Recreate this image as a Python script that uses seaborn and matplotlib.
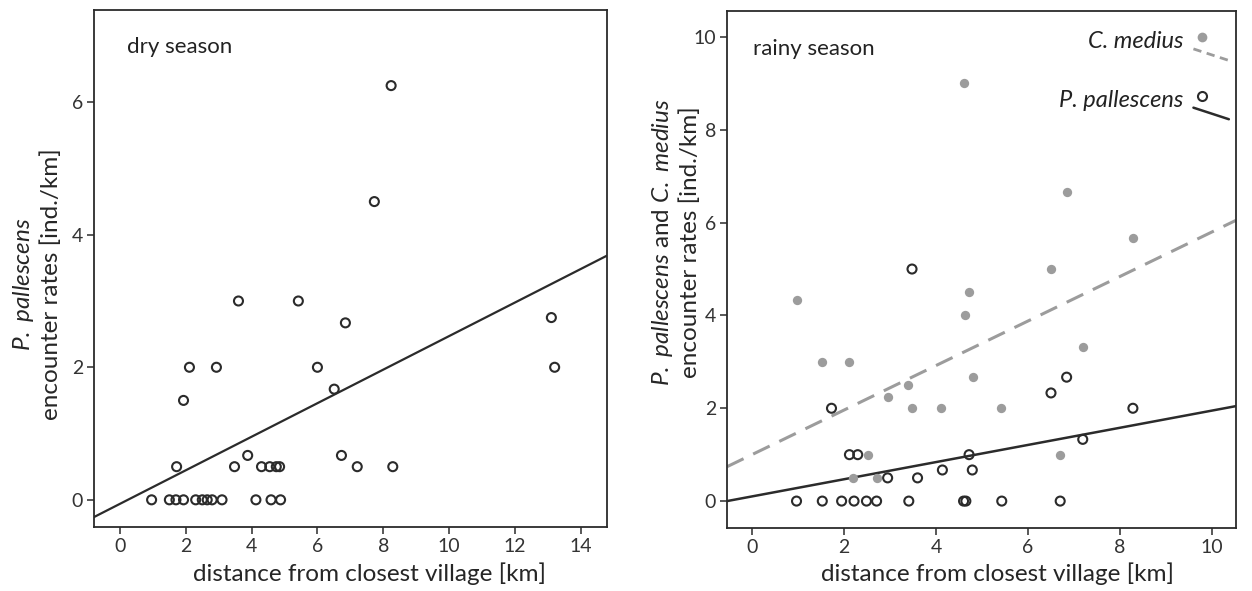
import numpy as np
import pandas as pd
import matplotlib
matplotlib.use("Agg")
import matplotlib.pyplot as plt
import seaborn as sns
from matplotlib.lines import Line2D
from matplotlib.legend_handler import HandlerBase

# ---------------- data ----------------
# dry season: P. pallescens
dry_dist = [8.24, 7.73, 3.6, 5.42, 6.85, 13.11, 2.11, 2.93, 6.0, 13.21, 1.93, 6.51,
            3.88, 6.73, 1.72, 3.48, 4.3, 4.55, 4.75, 4.85, 7.21, 8.29,
            0.96, 1.5, 1.7, 1.93, 2.3, 2.5, 2.65, 2.8, 3.1, 4.13, 4.59, 4.88]
dry_rate = [6.25, 4.5, 3.0, 3.0, 2.67, 2.75, 2.0, 2.0, 2.0, 2.0, 1.5, 1.67,
            0.67, 0.67, 0.5, 0.5, 0.5, 0.5, 0.5, 0.5, 0.5, 0.5,
            0, 0, 0, 0, 0, 0, 0, 0, 0, 0, 0, 0]
dry_fit = (-0.06, 0.253)  # intercept, slope

# rainy season: C. medius
cm_dist = [4.61, 6.84, 8.28, 6.5, 4.72, 0.97, 4.64, 7.19, 1.53, 2.11, 4.8, 3.40,
           2.95, 3.48, 4.12, 5.41, 2.53, 6.70, 2.2, 2.71]
cm_rate = [9.0, 6.67, 5.67, 5.0, 4.5, 4.33, 4.0, 3.33, 3.0, 3.0, 2.67, 2.5,
           2.25, 2.0, 2.0, 2.0, 1.0, 1.0, 0.5, 0.5]
cm_fit = (1.0, 0.48)

# rainy season: P. pallescens
pp_dist = [3.48, 6.84, 6.5, 8.28, 1.73, 7.19, 2.12, 2.30, 4.72, 4.14, 4.79, 2.95, 3.6,
           0.97, 1.53, 1.95, 2.22, 2.49, 2.71, 3.41, 4.6, 4.65, 5.43, 6.70]
pp_rate = [5.0, 2.67, 2.33, 2.0, 2.0, 1.33, 1.0, 1.0, 1.0, 0.67, 0.67, 0.5, 0.5,
           0, 0, 0, 0, 0, 0, 0, 0, 0, 0, 0]
pp_fit = (0.10, 0.185)

dry_xticks = [0, 2, 4, 6, 8, 10, 12, 14]
dry_yticks = [0, 2, 4, 6]
rainy_xticks = [0, 2, 4, 6, 8, 10]
rainy_yticks = [0, 2, 4, 6, 8, 10]

# ---------------- style ----------------
sns.set_style("ticks")
plt.rcParams["font.family"] = ["Lato", "DejaVu Sans"]
plt.rcParams["mathtext.fontset"] = "custom"
plt.rcParams["mathtext.it"] = "Lato:italic"
plt.rcParams["mathtext.rm"] = "Lato"
plt.rcParams["text.color"] = "#222222"

BLACK = "#2b2b2b"
GRAY = "#9c9c9c"
TICK_FS = 14
LAB_FS = 17.5

fig = plt.figure(figsize=(12.52, 5.91), dpi=100)
ax1 = fig.add_axes([0.0751, 0.1083, 0.4097, 0.8747])
ax2 = fig.add_axes([0.5807, 0.1066, 0.4065, 0.8748])

dry_df = pd.DataFrame({"dist": dry_dist, "rate": dry_rate})
cm_df = pd.DataFrame({"dist": cm_dist, "rate": cm_rate})
pp_df = pd.DataFrame({"dist": pp_dist, "rate": pp_rate})

open_kw = dict(marker="o", s=42, facecolor="none", edgecolor=BLACK, linewidth=1.5)

# ---- left panel
sns.scatterplot(data=dry_df, x="dist", y="rate", ax=ax1, zorder=3, **open_kw)
ax1.axline((0, dry_fit[0]), slope=dry_fit[1], color=BLACK, lw=1.6, zorder=2)
ax1.set_xlim(-0.79, 14.8)
ax1.set_ylim(-0.41, 7.39)
ax1.set_xticks(dry_xticks)
ax1.set_yticks(dry_yticks)
ax1.set_xlabel("distance from closest village [km]", fontsize=LAB_FS)
ax1.xaxis.set_label_coords(0.538, -0.068)
ax1.set_ylabel(r"$\it{P.}$ $\it{pallescens}$" + "\nencounter rates [ind./km]",
               fontsize=LAB_FS, linespacing=1.25)
ax1.yaxis.set_label_coords(-0.062, 0.469)
ax1.text(0.064, 0.928, "dry season", transform=ax1.transAxes, fontsize=16,
         va="center", ha="left")

# ---- right panel
sns.scatterplot(data=cm_df, x="dist", y="rate", ax=ax2, zorder=3, marker="o", s=45,
                color=GRAY, edgecolor=GRAY, linewidth=0)
sns.scatterplot(data=pp_df, x="dist", y="rate", ax=ax2, zorder=4, **open_kw)
ax2.axline((0, cm_fit[0]), slope=cm_fit[1], color=GRAY, lw=2.2, dashes=(6, 3.5), zorder=2)
ax2.axline((0, pp_fit[0]), slope=pp_fit[1], color=BLACK, lw=1.8, zorder=2)
ax2.set_xlim(-0.54, 10.52)
ax2.set_ylim(-0.58, 10.56)
ax2.set_xticks(rainy_xticks)
ax2.set_yticks(rainy_yticks)
ax2.set_xlabel("distance from closest village [km]", fontsize=LAB_FS)
ax2.xaxis.set_label_coords(0.532, -0.066)
ax2.set_ylabel(r"$\it{P.}$ $\it{pallescens}$ and $\it{C.}$ $\it{medius}$" +
               "\nencounter rates [ind./km]", fontsize=LAB_FS, linespacing=1.25)
ax2.yaxis.set_label_coords(-0.052, 0.553)
ax2.text(0.051, 0.926, "rainy season", transform=ax2.transAxes, fontsize=16,
         va="center", ha="left")


class HandlerMarkerDiag(HandlerBase):
    def create_artists(self, legend, orig_handle, xdescent, ydescent, width, height,
                       fontsize, trans):
        m = Line2D([-xdescent + 0.4 * width], [-ydescent + 0.65 * height],
                   marker=orig_handle.get_marker(),
                   markersize=orig_handle.get_markersize(),
                   markerfacecolor=orig_handle.get_markerfacecolor(),
                   markeredgecolor=orig_handle.get_markeredgecolor(),
                   markeredgewidth=orig_handle.get_markeredgewidth(),
                   linestyle="none", transform=trans)
        l = Line2D([-xdescent + 0.15 * width, -xdescent + 1.15 * width],
                   [-ydescent - 0.05 * height, -ydescent - 0.75 * height],
                   color=orig_handle.get_color(),
                   linestyle=orig_handle.get_linestyle(),
                   linewidth=orig_handle.get_linewidth(), transform=trans)
        if orig_handle.get_linestyle() in ("--", "dashed"):
            l.set_dashes((3, 2))
        return [m, l]


h_cm = Line2D([], [], marker="o", markersize=7, markerfacecolor=GRAY,
              markeredgecolor=GRAY, markeredgewidth=0, color=GRAY, linestyle="--", lw=2)
h_pp = Line2D([], [], marker="o", markersize=6.5, markerfacecolor="none",
              markeredgecolor=BLACK, markeredgewidth=1.5, color=BLACK, linestyle="-", lw=1.8)
leg = ax2.legend([h_cm, h_pp], ["C. medius", "P. pallescens"],
                 handler_map={Line2D: HandlerMarkerDiag()},
                 loc="upper right", bbox_to_anchor=(1.015, 1.0), frameon=False,
                 markerfirst=False, prop={"style": "italic", "size": 17},
                 labelspacing=1.6, handlelength=1.5, handletextpad=0.2,
                 borderaxespad=0.45)

for ax in (ax1, ax2):
    for sp in ax.spines.values():
        sp.set_visible(True)
        sp.set_color(BLACK)
        sp.set_linewidth(1.3)
    ax.tick_params(axis="both", direction="out", length=5, width=1.1,
                   color=BLACK, labelsize=TICK_FS, labelcolor="#333333", pad=3)

fig.savefig("out.png", dpi=100)
